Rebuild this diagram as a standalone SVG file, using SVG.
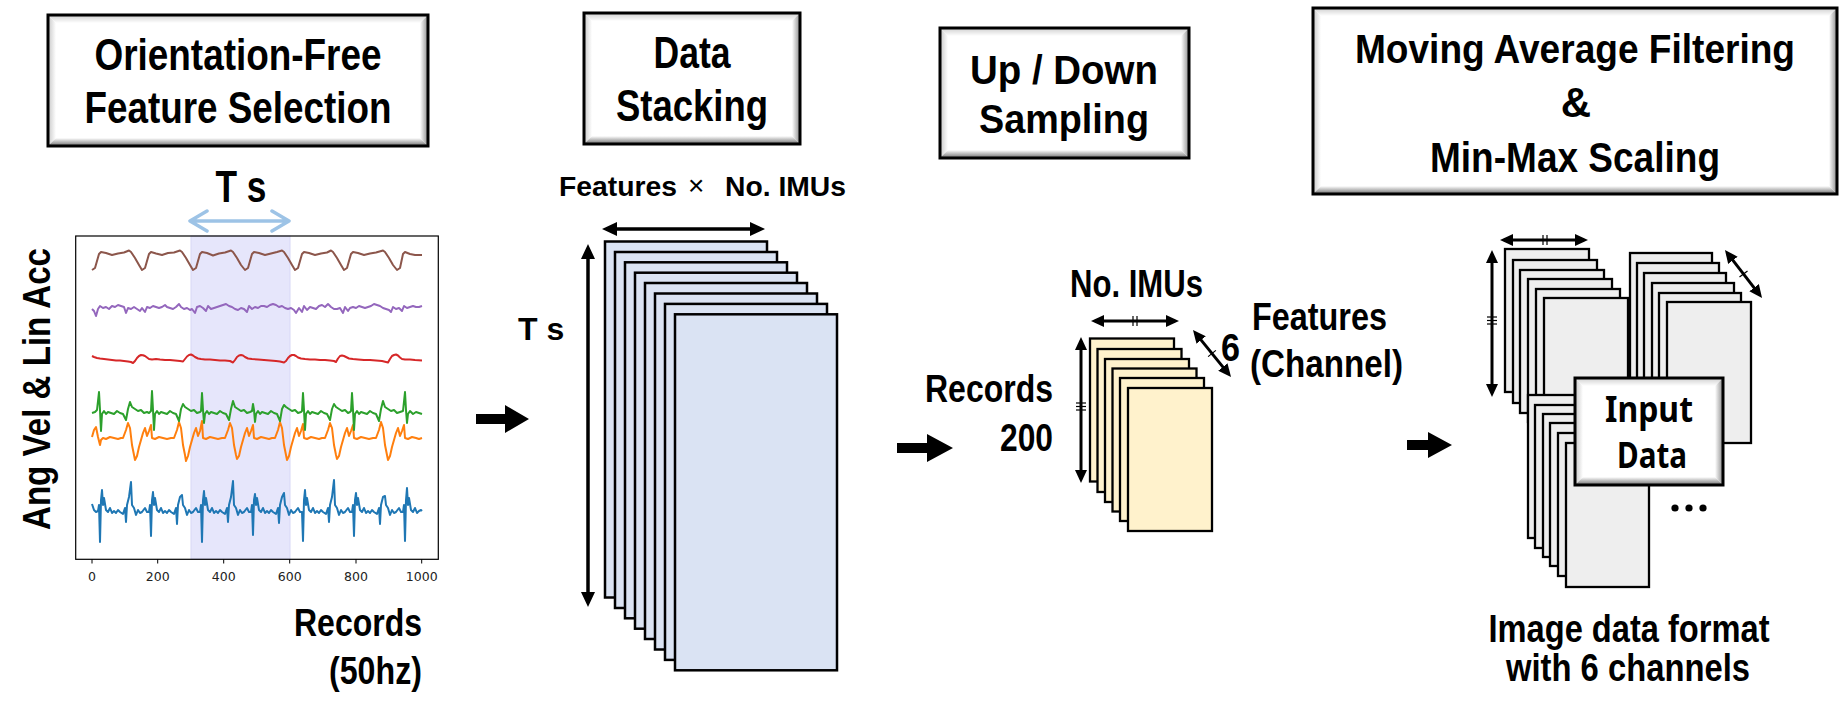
<svg xmlns="http://www.w3.org/2000/svg" width="1847" height="708" viewBox="0 0 1847 708">
<style>
.n{font-family:"Liberation Sans Narrow","Liberation Sans",Arial,sans-serif;font-weight:bold;fill:#000}
.b{font-family:"Liberation Sans",Arial,sans-serif;font-weight:bold;fill:#000}
.k{font-family:"Noto Sans","Open Sans",sans-serif;font-weight:bold;fill:#000}
.tick{font-family:"DejaVu Sans",sans-serif;font-size:12.5px;fill:#222;text-anchor:middle}
.bd{fill:none;stroke:#000;stroke-width:3}
.bw{fill:#fff}
.sig{fill:none;stroke-width:2;stroke-linejoin:round}
.blue{fill:#dae3f3;stroke:#000;stroke-width:2.5}
.yel{fill:#fff2cc;stroke:#000;stroke-width:2.3}
.gry{fill:#eeeeee;stroke:#000;stroke-width:2.3}
.dim{fill:none;stroke:#000;stroke-width:3;marker-start:url(#hs);marker-end:url(#hs)}
.dimb{fill:none;stroke:#000;stroke-width:3.5;marker-start:url(#hb);marker-end:url(#hb)}
.tk{stroke:#000;stroke-width:1.2}
</style>
<defs>
<linearGradient id="gT" x1="0" y1="0" x2="0" y2="1"><stop offset="0" stop-color="#cfcfcf"/><stop offset="1" stop-color="#fff"/></linearGradient>
<linearGradient id="gL" x1="0" y1="0" x2="1" y2="0"><stop offset="0" stop-color="#c8c8c8"/><stop offset="1" stop-color="#fff"/></linearGradient>
<linearGradient id="gR" x1="1" y1="0" x2="0" y2="0"><stop offset="0" stop-color="#8c8c8c"/><stop offset="1" stop-color="#fff"/></linearGradient>
<linearGradient id="gB" x1="0" y1="1" x2="0" y2="0"><stop offset="0" stop-color="#6e6e6e"/><stop offset="1" stop-color="#fff"/></linearGradient>
<marker id="hb" viewBox="0 0 15 14" refX="11" refY="7" markerWidth="15" markerHeight="14" markerUnits="userSpaceOnUse" orient="auto-start-reverse"><path d="M0,0 L15,7 L0,14 z" fill="#000"/></marker>
<marker id="hs" viewBox="0 0 13 12" refX="9" refY="6" markerWidth="13" markerHeight="12" markerUnits="userSpaceOnUse" orient="auto-start-reverse"><path d="M0,0 L13,6 L0,12 z" fill="#000"/></marker>
</defs>
<rect width="1847" height="708" fill="#fff"/>

<g id="box-orientation">
<rect class="bw" x="48" y="15" width="380" height="131"/>
<polygon points="48,15 428,15 420,23 56,23" fill="url(#gT)"/>
<polygon points="48,15 56,23 56,138 48,146" fill="url(#gL)"/>
<polygon points="428,15 428,146 420,138 420,23" fill="url(#gR)"/>
<polygon points="48,146 56,138 420,138 428,146" fill="url(#gB)"/>
<rect class="bd" x="48" y="15" width="380" height="131"/>
<text class="n" font-size="45" x="238" y="70" text-anchor="middle" textLength="287" lengthAdjust="spacingAndGlyphs">Orientation-Free</text>
<text class="n" font-size="45" x="238" y="123" text-anchor="middle" textLength="307" lengthAdjust="spacingAndGlyphs">Feature Selection</text>
</g>

<g id="chart">
<text class="n" font-size="45" x="241" y="202" text-anchor="middle" textLength="51" lengthAdjust="spacingAndGlyphs">T s</text>
<path d="M190,221 H289 M207,211 L190,221 L207,231 M272,211 L289,221 L272,231" fill="none" stroke="#9dc3e6" stroke-width="3.5" stroke-linecap="round" stroke-linejoin="round"/>
<rect x="191" y="236" width="99" height="323" fill="#e6e6fb" stroke="#d8d8f6" stroke-width="1"/>
<rect x="75.7" y="236" width="362.6" height="323.3" fill="none" stroke="#000" stroke-width="1.2"/>
<g stroke="#000" stroke-width="1">
<line x1="92" y1="559.3" x2="92" y2="563.5"/><line x1="157.7" y1="559.3" x2="157.7" y2="563.5"/><line x1="223.7" y1="559.3" x2="223.7" y2="563.5"/><line x1="289.7" y1="559.3" x2="289.7" y2="563.5"/><line x1="356" y1="559.3" x2="356" y2="563.5"/><line x1="421.7" y1="559.3" x2="421.7" y2="563.5"/>
</g>
<text class="tick" x="92" y="581">0</text><text class="tick" x="157.7" y="581">200</text><text class="tick" x="223.7" y="581">400</text><text class="tick" x="289.7" y="581">600</text><text class="tick" x="356" y="581">800</text><text class="tick" x="421.7" y="581">1000</text>
<polyline class="sig" stroke="#8c564b" points="92,270 95,268 99,254 101,252 106,253 112,255 118,253.5 124,252.5 129,250.5 131,252 135,258 139,265 142,270 145,268 149,254 151,252 156,253.5 162,255 168,253 174,252.5 180,250.5 182,252 186,258 190,265 193,270 196,268 200,254 202,252 207,253 213,255.5 219,253.5 225,252.5 231,250.5 233,252 237,258 241,265 245,270 248,268 252,254 254,252 259,253 265,255 271,253.5 277,252 282,250.5 284,252 288,258 292,265 295,270 298,268 302,254 304,252 309,253 315,255 321,253.5 327,252.5 331,250.5 333,252 337,258 341,265 344,270 347,268 351,254 353,252 358,253 364,255 370,253.5 376,252.5 383,250.5 385,252 389,258 393,265 397,270 400,268 403,254 405,252 410,254 415,255 422,255"/>
<polyline class="sig" stroke="#9467bd" points="92,309 94,311 96,316 98,309 100,306 103,308 106,307 109,309 112,306 115,307 118,305 121,306 124,307 126,313 128,308 131,309 134,307 137,309 140,311 142,308 145,312 147,307 150,308 153,306 156,307 159,308 162,307 165,305 167,307 170,308 173,309 176,307 179,304 181,307 184,309 187,308 190,310 192,309 195,313 197,307 200,306 203,308 206,311 208,306 211,309 214,308 217,307 220,306 223,305 226,304 229,306 232,307 235,309 238,310 241,308 244,309 247,312 249,306 252,309 255,307 258,308 261,306 264,306 267,307 270,305 273,304 276,305 279,307 282,306 285,308 288,309 291,308 294,310 296,313 299,308 302,312 304,306 307,310 310,307 313,308 316,309 319,306 322,305 325,307 328,304 331,307 334,309 337,309 340,308 343,313 345,307 348,311 350,308 353,307 356,308 359,306 362,307 365,308 368,307 371,306 374,304 377,305 380,306 383,308 386,309 389,310 391,312 393,307 396,309 399,308 402,311 404,306 407,308 410,307 413,306 416,307 419,307 422,306"/>
<polyline class="sig" stroke="#d62728" points="92,356 94,357 97,358 100,358.5 104,359 108,359.5 112,360 116,360.5 120,360.5 124,361 128,361.5 131,362 133,363 135,361 137,358 139,356 141,355 143,355.2 145,356 147,357.5 149,359 152,359.5 156,359 160,359.5 165,360 170,360 175,360.5 180,361 183,361.5 185,359 187,356.5 189,355 191,354.5 193,355.5 195,357 198,358.5 201,359 205,359.5 210,359.5 215,360 220,360.5 225,360.5 230,361 233,362.5 235,360 237,357 239,355.5 241,355 243,355.5 245,357 248,358.5 252,359 258,359.5 264,360 270,360.5 276,361 280,361.5 284,362.5 286,361 288,358 290,356 292,355 294,355 296,356 298,357.5 301,358.5 305,359 310,359.5 315,359.5 320,360 325,360 330,360.5 334,361 336,362 338,358.5 340,356 342,355.5 344,356 346,357 349,358.5 353,359 358,359.5 364,360 370,360 376,360.5 382,361 386,362 388,362.5 390,359 392,356 394,355 396,354.5 398,355.5 400,357.5 402,359 405,359.5 410,359.5 415,360 422,360.5"/>
<polyline class="sig" stroke="#ff7f0e" points="92,437 94,430 96,427 98,437 100,445 101,440 103,438 106,439 110,437 114,438 118,439 121,438 123,438 126,430 128,423 130,428 132,445 134,455 135,460 137,456 139,447 141,440 143,433 145,428 147,436 149,431 151,425 152,438 155,439 159,437 163,438 167,439 171,438 174,438 177,430 179,422 181,428 183,445 185,455 186,461 188,456 190,447 192,440 194,433 196,428 198,436 200,431 202,421 203,438 206,439 210,437 214,438 218,439 222,438 225,438 228,430 230,423 232,428 234,445 236,455 237,459 239,456 241,447 243,440 245,433 247,428 249,436 251,431 253,425 254,438 257,439 261,437 265,438 269,439 272,438 275,438 278,430 280,422 282,428 284,445 286,455 287,460 289,456 291,447 293,440 295,433 297,428 299,436 301,431 303,424 304,438 307,439 311,437 315,438 319,439 322,438 325,438 328,430 330,423 332,428 334,445 336,455 337,459 339,456 341,447 343,440 345,433 347,428 349,436 351,431 353,425 354,438 357,439 361,437 365,438 369,439 373,438 376,438 379,430 381,422 383,428 385,445 387,455 388,460 390,456 392,447 394,440 396,433 398,428 400,436 402,431 404,425 405,438 408,439 412,437 416,438 419,439 422,438"/>
<polyline class="sig" stroke="#2ca02c" points="92,413 95,412 97,410 99,392 100,410 101,431 102,414 104,411 106,414 108,412 111,413 114,414 117,411 120,413 123,414 126,420 128,409 130,402 132,407 135,409 138,411 141,410 144,413 147,412 149,413 151,411 152,391 153,410 154,430 155,414 157,411 159,414 161,412 164,413 167,414 170,411 173,413 176,414 179,421 181,409 183,404 185,407 188,409 191,411 194,410 197,413 200,412 201,411 202,393 203,410 204,423 205,414 207,411 209,414 211,412 214,413 217,414 220,411 223,413 226,414 229,420 231,409 233,401 235,407 238,409 241,411 244,410 247,413 250,412 252,411 253,404 254,410 255,422 256,414 258,411 260,414 262,412 265,413 268,414 271,411 274,413 277,414 280,421 282,409 284,405 286,407 289,409 292,411 295,410 298,413 301,412 302,411 303,393 304,410 305,430 306,414 308,411 310,414 312,412 315,413 318,414 321,411 324,413 327,414 330,420 332,409 334,404 336,407 339,409 342,411 345,410 348,413 350,412 351,411 352,393 353,410 354,430 355,414 357,411 359,414 361,412 364,413 367,414 370,411 373,413 376,414 379,421 381,409 383,401 385,407 388,409 391,411 394,410 397,413 400,412 403,411 405,392 406,410 407,423 408,414 410,411 413,414 416,412 419,413 422,414"/>
<polyline class="sig" stroke="#1f77b4" points="92,504 94,510 96,512 98,511 99,505 100,542 101,500 102,490 103,505 104,498 106,510 108,512 110,508 112,513 114,511 116,513 118,510 120,512 123,514 125,508 126,522 127,505 129,497 131,482 132,505 134,508 136,515 138,510 140,513 142,512 145,508 147,512 149,512 150,505 151,536 152,500 153,492 154,505 155,498 157,510 159,512 161,508 163,513 165,511 167,513 169,510 171,512 174,514 176,508 177,524 178,505 180,497 182,495 183,505 185,508 187,515 189,510 191,513 193,512 196,508 198,512 200,512 201,505 202,542 203,500 204,491 205,505 206,498 208,510 210,512 212,508 214,513 216,511 218,513 220,510 222,512 225,514 227,508 228,522 229,505 231,497 233,481 234,505 236,508 238,515 240,510 242,513 244,512 247,508 249,512 251,512 252,505 253,535 254,500 255,494 256,505 257,498 259,510 261,512 263,508 265,513 267,511 269,513 271,510 273,512 276,514 278,508 279,523 280,505 282,497 284,493 285,505 287,508 289,515 291,510 293,513 295,512 298,508 300,512 302,512 303,541 304,500 305,490 306,505 307,498 309,510 311,512 313,508 315,513 317,511 319,513 321,510 323,512 326,514 328,508 329,522 330,505 332,497 334,480 335,505 337,508 339,515 341,510 343,513 345,512 348,508 350,512 352,512 353,505 354,536 355,500 356,493 357,505 358,498 360,510 362,512 364,508 366,513 368,511 370,513 372,510 374,512 377,514 379,508 380,524 381,505 383,497 385,496 386,505 388,508 390,515 392,510 394,513 396,512 399,508 401,512 403,512 404,505 405,541 406,500 407,488 408,505 409,498 411,510 413,512 415,508 417,513 419,511 421,510 422,511"/>
<text class="n" font-size="39" transform="translate(50,389) rotate(-90)" text-anchor="middle" textLength="282" lengthAdjust="spacingAndGlyphs">Ang Vel &amp; Lin Acc</text>
<text class="n" font-size="38.5" x="422" y="636" text-anchor="end" textLength="128" lengthAdjust="spacingAndGlyphs">Records</text>
<text class="n" font-size="38.5" x="422" y="684" text-anchor="end" textLength="93" lengthAdjust="spacingAndGlyphs">(50hz)</text>
</g>

<g id="box-stacking">
<rect class="bw" x="584" y="13" width="216" height="131"/>
<polygon points="584,13 800,13 792,21 592,21" fill="url(#gT)"/>
<polygon points="584,13 592,21 592,136 584,144" fill="url(#gL)"/>
<polygon points="800,13 800,144 792,136 792,21" fill="url(#gR)"/>
<polygon points="584,144 592,136 792,136 800,144" fill="url(#gB)"/>
<rect class="bd" x="584" y="13" width="216" height="131"/>
<text class="n" font-size="44" x="692" y="68" text-anchor="middle" textLength="77" lengthAdjust="spacingAndGlyphs">Data</text>
<text class="n" font-size="44" x="692" y="121" text-anchor="middle" textLength="152" lengthAdjust="spacingAndGlyphs">Stacking</text>
</g>

<g id="stack-stacked">
<text class="b" font-size="28.5" x="559" y="196" textLength="118" lengthAdjust="spacingAndGlyphs">Features</text>
<text font-family="Liberation Sans, Arial, sans-serif" font-size="28" x="688" y="195">×</text>
<text class="b" font-size="28.5" x="725" y="196" textLength="121" lengthAdjust="spacingAndGlyphs">No. IMUs</text>
<text class="b" font-size="32" x="518" y="340">T s</text>
<rect class="blue" x="605" y="241.5" width="162" height="356"/>
<rect class="blue" x="615" y="252" width="162" height="356"/>
<rect class="blue" x="625" y="262.3" width="162" height="356"/>
<rect class="blue" x="635" y="272.7" width="162" height="356"/>
<rect class="blue" x="645" y="283" width="162" height="356"/>
<rect class="blue" x="655" y="293.5" width="162" height="356"/>
<rect class="blue" x="665" y="303.9" width="162" height="356"/>
<rect class="blue" x="675" y="314.3" width="162" height="356"/>
<line class="dimb" x1="606" y1="229" x2="761" y2="229"/>
<line class="dimb" x1="588" y1="248" x2="588" y2="603"/>
</g>

<g id="box-sampling">
<rect class="bw" x="940" y="28" width="249" height="130"/>
<polygon points="940,28 1189,28 1181,36 948,36" fill="url(#gT)"/>
<polygon points="940,28 948,36 948,150 940,158" fill="url(#gL)"/>
<polygon points="1189,28 1189,158 1181,150 1181,36" fill="url(#gR)"/>
<polygon points="940,158 948,150 1181,150 1189,158" fill="url(#gB)"/>
<rect class="bd" x="940" y="28" width="249" height="130"/>
<text class="n" font-size="41" x="1064" y="84" text-anchor="middle" textLength="188" lengthAdjust="spacingAndGlyphs">Up / Down</text>
<text class="n" font-size="41" x="1064" y="133" text-anchor="middle" textLength="170" lengthAdjust="spacingAndGlyphs">Sampling</text>
</g>

<g id="stack-sampled">
<text class="n" font-size="38" x="1136.5" y="297" text-anchor="middle" textLength="133" lengthAdjust="spacingAndGlyphs">No. IMUs</text>
<text class="n" font-size="38" x="1053" y="402" text-anchor="end" textLength="128" lengthAdjust="spacingAndGlyphs">Records</text>
<text class="n" font-size="38" x="1053" y="451" text-anchor="end" textLength="53" lengthAdjust="spacingAndGlyphs">200</text>
<text class="n" font-size="38" x="1221" y="361" textLength="19" lengthAdjust="spacingAndGlyphs">6</text>
<text class="n" font-size="39" x="1252" y="330" textLength="135" lengthAdjust="spacingAndGlyphs">Features</text>
<text class="n" font-size="39" x="1250" y="377" textLength="153" lengthAdjust="spacingAndGlyphs">(Channel)</text>
<rect class="yel" x="1090" y="338.5" width="84" height="143"/>
<rect class="yel" x="1097.5" y="349" width="84" height="143"/>
<rect class="yel" x="1105" y="359" width="84" height="143"/>
<rect class="yel" x="1112.5" y="368.5" width="84" height="143"/>
<rect class="yel" x="1120" y="378" width="84" height="143"/>
<rect class="yel" x="1128" y="388" width="84" height="143"/>
<line class="dim" x1="1095" y1="321" x2="1175" y2="321"/>
<line class="tk" x1="1133" y1="316" x2="1133" y2="326"/><line class="tk" x1="1137" y1="316" x2="1137" y2="326"/>
<line class="dim" x1="1081" y1="341" x2="1081" y2="479"/>
<line class="tk" x1="1076" y1="403" x2="1086" y2="403"/><line class="tk" x1="1076" y1="406.5" x2="1086" y2="406.5"/><line class="tk" x1="1076" y1="410" x2="1086" y2="410"/>
<line class="dim" x1="1195.5" y1="333.1" x2="1228.5" y2="373.9"/>
<line class="tk" x1="1208.1" y1="356.6" x2="1215.9" y2="350.4"/>
</g>

<g id="box-filtering">
<rect class="bw" x="1313" y="8" width="524" height="186"/>
<polygon points="1313,8 1837,8 1829,16 1321,16" fill="url(#gT)"/>
<polygon points="1313,8 1321,16 1321,186 1313,194" fill="url(#gL)"/>
<polygon points="1837,8 1837,194 1829,186 1829,16" fill="url(#gR)"/>
<polygon points="1313,194 1321,186 1829,186 1837,194" fill="url(#gB)"/>
<rect class="bd" x="1313" y="8" width="524" height="186"/>
<text class="n" font-size="41" x="1575" y="63" text-anchor="middle" textLength="440" lengthAdjust="spacingAndGlyphs">Moving Average Filtering</text>
<text class="n" font-size="42" x="1576" y="117" text-anchor="middle">&amp;</text>
<text class="n" font-size="42" x="1575" y="172" text-anchor="middle" textLength="290" lengthAdjust="spacingAndGlyphs">Min-Max Scaling</text>
</g>

<g id="image-data">
<rect class="gry" x="1505" y="249" width="84" height="143"/>
<rect class="gry" x="1513" y="260" width="84" height="143"/>
<rect class="gry" x="1520" y="270" width="84" height="143"/>
<rect class="gry" x="1528" y="279" width="84" height="143"/>
<rect class="gry" x="1536" y="289" width="84" height="143"/>
<rect class="gry" x="1544" y="298" width="84" height="143"/>
<rect class="gry" x="1630" y="253" width="82" height="141"/>
<rect class="gry" x="1637" y="263" width="82" height="141"/>
<rect class="gry" x="1644" y="273" width="82" height="141"/>
<rect class="gry" x="1652" y="283" width="82" height="141"/>
<rect class="gry" x="1659" y="293" width="82" height="141"/>
<rect class="gry" x="1667" y="302" width="84" height="141"/>
<rect class="gry" x="1528" y="395" width="83" height="143"/>
<rect class="gry" x="1535" y="405" width="83" height="143"/>
<rect class="gry" x="1543" y="414" width="83" height="143"/>
<rect class="gry" x="1550" y="423" width="83" height="143"/>
<rect class="gry" x="1558" y="433" width="83" height="143"/>
<rect class="gry" x="1566" y="443" width="83" height="144"/>
<line class="dim" x1="1504" y1="240" x2="1584" y2="240"/>
<line class="tk" x1="1543" y1="235" x2="1543" y2="245"/><line class="tk" x1="1547" y1="235" x2="1547" y2="245"/>
<line class="dim" x1="1492" y1="254" x2="1492" y2="393"/>
<line class="tk" x1="1487" y1="317" x2="1497" y2="317"/><line class="tk" x1="1487" y1="320.5" x2="1497" y2="320.5"/><line class="tk" x1="1487" y1="324" x2="1497" y2="324"/>
<line class="dim" x1="1727.4" y1="253.2" x2="1759.6" y2="294.8"/>
<line class="tk" x1="1739.5" y1="277" x2="1747.5" y2="271"/>
<circle cx="1675" cy="508" r="3.6"/><circle cx="1689" cy="508" r="3.6"/><circle cx="1703" cy="508" r="3.6"/>
<text class="n" font-size="38" x="1629" y="642" text-anchor="middle" textLength="281" lengthAdjust="spacingAndGlyphs">Image data format</text>
<text class="n" font-size="38" x="1628" y="681" text-anchor="middle" textLength="244" lengthAdjust="spacingAndGlyphs">with 6 channels</text>
</g>

<g id="box-input">
<rect class="bw" x="1575" y="378" width="148" height="107"/>
<polygon points="1575,378 1723,378 1715,386 1583,386" fill="url(#gT)"/>
<polygon points="1575,378 1583,386 1583,477 1575,485" fill="url(#gL)"/>
<polygon points="1723,378 1723,485 1715,477 1715,386" fill="url(#gR)"/>
<polygon points="1575,485 1583,477 1715,477 1723,485" fill="url(#gB)"/>
<rect class="bd" x="1575" y="378" width="148" height="107"/>
<text class="k" font-size="35" x="1649" y="422" text-anchor="middle" textLength="88" lengthAdjust="spacingAndGlyphs">Input</text>
<text class="k" font-size="35" x="1652" y="468" text-anchor="middle" textLength="70" lengthAdjust="spacingAndGlyphs">Data</text>
</g>

<g id="connectors" fill="#000">
<polygon points="476,414 505,414 505,405 529,419 505,433 505,424 476,424"/>
<polygon points="897,443 927,443 927,434 953,448 927,462 927,453 897,453"/>
<polygon points="1407,440 1428,440 1428,432 1452,445 1428,458 1428,450 1407,450"/>
</g>
</svg>
